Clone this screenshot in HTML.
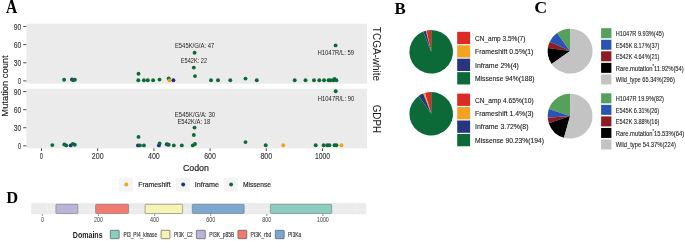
<!DOCTYPE html>
<html><head><meta charset="utf-8"><style>
html,body{margin:0;padding:0;background:#fff;width:685px;height:241px;overflow:hidden;}
svg{display:block;will-change:transform;}
</style></head><body>
<svg width="685" height="241" viewBox="0 0 685 241"><text x="6.0" y="12.95" font-size="18.1" fill="#000" text-anchor="start" font-weight="bold" style='font-family:"Liberation Serif", serif' textLength="11.2" lengthAdjust="spacingAndGlyphs">A</text>
<rect x="26.3" y="23.7" width="340.7" height="60.0" fill="#ebebeb"/>
<line x1="23.2" x2="26.3" y1="80.90" y2="80.90" stroke="#2a2a2a" stroke-width="0.85"/>
<text x="21.2" y="84.0" font-size="8.5" fill="#333" text-anchor="end" font-weight="normal" style='font-family:"Liberation Sans", sans-serif' textLength="3.1" lengthAdjust="spacingAndGlyphs" stroke="#333" stroke-width="0.12">0</text>
<line x1="23.2" x2="26.3" y1="62.77" y2="62.77" stroke="#2a2a2a" stroke-width="0.85"/>
<text x="21.2" y="65.87" font-size="8.5" fill="#333" text-anchor="end" font-weight="normal" style='font-family:"Liberation Sans", sans-serif' textLength="7.5" lengthAdjust="spacingAndGlyphs" stroke="#333" stroke-width="0.12">30</text>
<line x1="23.2" x2="26.3" y1="44.64" y2="44.64" stroke="#2a2a2a" stroke-width="0.85"/>
<text x="21.2" y="47.74" font-size="8.5" fill="#333" text-anchor="end" font-weight="normal" style='font-family:"Liberation Sans", sans-serif' textLength="7.5" lengthAdjust="spacingAndGlyphs" stroke="#333" stroke-width="0.12">60</text>
<line x1="23.2" x2="26.3" y1="26.50" y2="26.50" stroke="#2a2a2a" stroke-width="0.85"/>
<text x="21.2" y="29.6" font-size="8.5" fill="#333" text-anchor="end" font-weight="normal" style='font-family:"Liberation Sans", sans-serif' textLength="7.5" lengthAdjust="spacingAndGlyphs" stroke="#333" stroke-width="0.12">90</text>
<rect x="26.3" y="88.8" width="340.7" height="59.60000000000001" fill="#ebebeb"/>
<line x1="23.2" x2="26.3" y1="145.80" y2="145.80" stroke="#2a2a2a" stroke-width="0.85"/>
<text x="21.2" y="148.9" font-size="8.5" fill="#333" text-anchor="end" font-weight="normal" style='font-family:"Liberation Sans", sans-serif' textLength="3.1" lengthAdjust="spacingAndGlyphs" stroke="#333" stroke-width="0.12">0</text>
<line x1="23.2" x2="26.3" y1="127.73" y2="127.73" stroke="#2a2a2a" stroke-width="0.85"/>
<text x="21.2" y="130.83" font-size="8.5" fill="#333" text-anchor="end" font-weight="normal" style='font-family:"Liberation Sans", sans-serif' textLength="7.5" lengthAdjust="spacingAndGlyphs" stroke="#333" stroke-width="0.12">30</text>
<line x1="23.2" x2="26.3" y1="109.67" y2="109.67" stroke="#2a2a2a" stroke-width="0.85"/>
<text x="21.2" y="112.77" font-size="8.5" fill="#333" text-anchor="end" font-weight="normal" style='font-family:"Liberation Sans", sans-serif' textLength="7.5" lengthAdjust="spacingAndGlyphs" stroke="#333" stroke-width="0.12">60</text>
<line x1="23.2" x2="26.3" y1="91.60" y2="91.60" stroke="#2a2a2a" stroke-width="0.85"/>
<text x="21.2" y="94.7" font-size="8.5" fill="#333" text-anchor="end" font-weight="normal" style='font-family:"Liberation Sans", sans-serif' textLength="7.5" lengthAdjust="spacingAndGlyphs" stroke="#333" stroke-width="0.12">90</text>
<line x1="41.50" x2="41.50" y1="148.4" y2="151.0" stroke="#2a2a2a" stroke-width="0.85"/>
<text x="41.5" y="158.9" font-size="8.4" fill="#333" text-anchor="middle" font-weight="normal" style='font-family:"Liberation Sans", sans-serif' textLength="3.3" lengthAdjust="spacingAndGlyphs" stroke="#333" stroke-width="0.12">0</text>
<line x1="97.70" x2="97.70" y1="148.4" y2="151.0" stroke="#2a2a2a" stroke-width="0.85"/>
<text x="97.7" y="158.9" font-size="8.4" fill="#333" text-anchor="middle" font-weight="normal" style='font-family:"Liberation Sans", sans-serif' textLength="11.8" lengthAdjust="spacingAndGlyphs" stroke="#333" stroke-width="0.12">200</text>
<line x1="153.90" x2="153.90" y1="148.4" y2="151.0" stroke="#2a2a2a" stroke-width="0.85"/>
<text x="153.9" y="158.9" font-size="8.4" fill="#333" text-anchor="middle" font-weight="normal" style='font-family:"Liberation Sans", sans-serif' textLength="11.8" lengthAdjust="spacingAndGlyphs" stroke="#333" stroke-width="0.12">400</text>
<line x1="210.10" x2="210.10" y1="148.4" y2="151.0" stroke="#2a2a2a" stroke-width="0.85"/>
<text x="210.1" y="158.9" font-size="8.4" fill="#333" text-anchor="middle" font-weight="normal" style='font-family:"Liberation Sans", sans-serif' textLength="11.8" lengthAdjust="spacingAndGlyphs" stroke="#333" stroke-width="0.12">600</text>
<line x1="266.30" x2="266.30" y1="148.4" y2="151.0" stroke="#2a2a2a" stroke-width="0.85"/>
<text x="266.3" y="158.9" font-size="8.4" fill="#333" text-anchor="middle" font-weight="normal" style='font-family:"Liberation Sans", sans-serif' textLength="11.8" lengthAdjust="spacingAndGlyphs" stroke="#333" stroke-width="0.12">800</text>
<line x1="322.50" x2="322.50" y1="148.4" y2="151.0" stroke="#2a2a2a" stroke-width="0.85"/>
<text x="322.5" y="158.9" font-size="8.4" fill="#333" text-anchor="middle" font-weight="normal" style='font-family:"Liberation Sans", sans-serif' textLength="15.2" lengthAdjust="spacingAndGlyphs" stroke="#333" stroke-width="0.12">1000</text>
<text x="8.3" y="86.0" font-size="9.6" fill="#1a1a1a" text-anchor="middle" font-weight="normal" style='font-family:"Liberation Sans", sans-serif' textLength="61.3" lengthAdjust="spacingAndGlyphs" transform="rotate(-90 8.3 86.0)" stroke="#1a1a1a" stroke-width="0.15">Mutation count</text>
<text x="195.9" y="170.8" font-size="9.9" fill="#1a1a1a" text-anchor="middle" font-weight="normal" style='font-family:"Liberation Sans", sans-serif' textLength="26.0" lengthAdjust="spacingAndGlyphs" stroke="#1a1a1a" stroke-width="0.2">Codon</text>
<text x="373.2" y="54.0" font-size="10.3" fill="#1a1a1a" text-anchor="middle" font-weight="normal" style='font-family:"Liberation Sans", sans-serif' textLength="54.3" lengthAdjust="spacingAndGlyphs" transform="rotate(90 373.2 54.0)">TCGA-white</text>
<text x="373.2" y="118.9" font-size="10.3" fill="#1a1a1a" text-anchor="middle" font-weight="normal" style='font-family:"Liberation Sans", sans-serif' textLength="28.3" lengthAdjust="spacingAndGlyphs" transform="rotate(90 373.2 118.9)">GDPH</text>
<circle cx="64.1" cy="79.8" r="1.95" fill="#0b6a37"/>
<circle cx="72.0" cy="79.4" r="1.95" fill="#252e7d"/>
<circle cx="73.0" cy="80.3" r="1.95" fill="#0b6a37"/>
<circle cx="74.9" cy="79.7" r="1.95" fill="#0b6a37"/>
<circle cx="138.5" cy="73.8" r="1.95" fill="#0b6a37"/>
<circle cx="138.3" cy="80.25" r="1.95" fill="#0b6a37"/>
<circle cx="143.9" cy="80.25" r="1.95" fill="#0b6a37"/>
<circle cx="147.8" cy="80.25" r="1.95" fill="#0b6a37"/>
<circle cx="153.1" cy="80.25" r="1.95" fill="#0b6a37"/>
<circle cx="159.5" cy="79.6" r="1.95" fill="#0b6a37"/>
<circle cx="168.7" cy="78.4" r="1.95" fill="#0b6a37"/>
<circle cx="169.4" cy="80.5" r="1.95" fill="#f4a11c"/>
<circle cx="173.4" cy="80.25" r="1.95" fill="#252e7d"/>
<circle cx="194.6" cy="52.8" r="1.95" fill="#0b6a37"/>
<circle cx="193.8" cy="67.6" r="1.95" fill="#0b6a37"/>
<circle cx="195" cy="76.1" r="1.95" fill="#0b6a37"/>
<circle cx="211" cy="80.25" r="1.95" fill="#0b6a37"/>
<circle cx="218" cy="80.25" r="1.95" fill="#0b6a37"/>
<circle cx="230.3" cy="80.25" r="1.95" fill="#0b6a37"/>
<circle cx="245.5" cy="78.6" r="1.95" fill="#0b6a37"/>
<circle cx="256.8" cy="80.25" r="1.95" fill="#0b6a37"/>
<circle cx="294.7" cy="80.25" r="1.95" fill="#0b6a37"/>
<circle cx="305.5" cy="80.3" r="1.95" fill="#0b6a37"/>
<circle cx="314" cy="80.3" r="1.95" fill="#0b6a37"/>
<circle cx="319.3" cy="80.3" r="1.95" fill="#0b6a37"/>
<circle cx="324.0" cy="80.25" r="1.95" fill="#0b6a37"/>
<circle cx="328.5" cy="80.3" r="1.95" fill="#0b6a37"/>
<circle cx="330.4" cy="80.3" r="1.95" fill="#0b6a37"/>
<circle cx="333.4" cy="80.3" r="1.95" fill="#0b6a37"/>
<circle cx="334.5" cy="78.9" r="1.95" fill="#0b6a37"/>
<circle cx="336.4" cy="80.3" r="1.95" fill="#0b6a37"/>
<circle cx="335.6" cy="45.4" r="1.95" fill="#0b6a37"/>
<circle cx="52.3" cy="145.1" r="1.95" fill="#0b6a37"/>
<circle cx="64.3" cy="144.5" r="1.95" fill="#0b6a37"/>
<circle cx="66.3" cy="145.4" r="1.95" fill="#0b6a37"/>
<circle cx="70.7" cy="145.4" r="1.95" fill="#252e7d"/>
<circle cx="72.8" cy="143.9" r="1.95" fill="#0b6a37"/>
<circle cx="74.8" cy="144.8" r="1.95" fill="#0b6a37"/>
<circle cx="138.5" cy="136.9" r="1.95" fill="#0b6a37"/>
<circle cx="138.0" cy="145.4" r="1.95" fill="#252e7d"/>
<circle cx="139.9" cy="145.4" r="1.95" fill="#0b6a37"/>
<circle cx="143.9" cy="145.4" r="1.95" fill="#0b6a37"/>
<circle cx="158.9" cy="145.4" r="1.95" fill="#252e7d"/>
<circle cx="159.6" cy="143.4" r="1.95" fill="#0b6a37"/>
<circle cx="166.8" cy="144.2" r="1.95" fill="#252e7d"/>
<circle cx="167.7" cy="144.6" r="1.95" fill="#0b6a37"/>
<circle cx="168.7" cy="144.8" r="1.95" fill="#0b6a37"/>
<circle cx="173.8" cy="145.4" r="1.95" fill="#0b6a37"/>
<circle cx="181.8" cy="145.4" r="1.95" fill="#0b6a37"/>
<circle cx="192.8" cy="145.4" r="1.95" fill="#0b6a37"/>
<circle cx="195" cy="144" r="1.95" fill="#0b6a37"/>
<circle cx="193.8" cy="135" r="1.95" fill="#0b6a37"/>
<circle cx="194.5" cy="127.6" r="1.95" fill="#0b6a37"/>
<circle cx="245.5" cy="142.1" r="1.95" fill="#0b6a37"/>
<circle cx="265.7" cy="145.3" r="1.95" fill="#0b6a37"/>
<circle cx="283.2" cy="145.3" r="1.95" fill="#f4a11c"/>
<circle cx="315.7" cy="145.3" r="1.95" fill="#0b6a37"/>
<circle cx="323.6" cy="145.3" r="1.95" fill="#0b6a37"/>
<circle cx="327.2" cy="145.3" r="1.95" fill="#0b6a37"/>
<circle cx="329.4" cy="145.3" r="1.95" fill="#0b6a37"/>
<circle cx="334.5" cy="145.3" r="1.95" fill="#0b6a37"/>
<circle cx="336.4" cy="145.3" r="1.95" fill="#0b6a37"/>
<circle cx="341.4" cy="145.3" r="1.95" fill="#f4a11c"/>
<circle cx="335.7" cy="91.3" r="1.95" fill="#0b6a37"/>
<text x="194.6" y="47.9" font-size="6.4" fill="#1e1e1e" text-anchor="middle" font-weight="normal" style='font-family:"Liberation Sans", sans-serif' textLength="39.4" lengthAdjust="spacingAndGlyphs">E545K/G/A: 47</text>
<text x="193.9" y="63.0" font-size="6.4" fill="#1e1e1e" text-anchor="middle" font-weight="normal" style='font-family:"Liberation Sans", sans-serif' textLength="26.3" lengthAdjust="spacingAndGlyphs">E542K: 22</text>
<text x="335.8" y="55.3" font-size="6.4" fill="#1e1e1e" text-anchor="middle" font-weight="normal" style='font-family:"Liberation Sans", sans-serif' textLength="36.8" lengthAdjust="spacingAndGlyphs">H1047R/L: 59</text>
<text x="195.0" y="116.8" font-size="6.4" fill="#1e1e1e" text-anchor="middle" font-weight="normal" style='font-family:"Liberation Sans", sans-serif' textLength="40.3" lengthAdjust="spacingAndGlyphs">E545K/G/A: 30</text>
<text x="193.8" y="123.9" font-size="6.4" fill="#1e1e1e" text-anchor="middle" font-weight="normal" style='font-family:"Liberation Sans", sans-serif' textLength="32.8" lengthAdjust="spacingAndGlyphs">E542K/A: 18</text>
<text x="336.0" y="101.1" font-size="6.4" fill="#1e1e1e" text-anchor="middle" font-weight="normal" style='font-family:"Liberation Sans", sans-serif' textLength="36.5" lengthAdjust="spacingAndGlyphs">H1047R/L: 90</text>
<rect x="119.1" y="177.5" width="13.8" height="14.1" fill="#f4f4f4"/>
<circle cx="126.30" cy="184.5" r="1.95" fill="#f4a11c"/>
<text x="138.2" y="187.2" font-size="7.8" fill="#262626" text-anchor="start" font-weight="normal" style='font-family:"Liberation Sans", sans-serif' textLength="32.4" lengthAdjust="spacingAndGlyphs" stroke="#262626" stroke-width="0.18">Frameshift</text>
<rect x="176.0" y="177.5" width="13.8" height="14.1" fill="#f4f4f4"/>
<circle cx="183.20" cy="184.5" r="1.95" fill="#252e7d"/>
<text x="194.8" y="187.2" font-size="7.8" fill="#262626" text-anchor="start" font-weight="normal" style='font-family:"Liberation Sans", sans-serif' textLength="24.2" lengthAdjust="spacingAndGlyphs" stroke="#262626" stroke-width="0.18">Inframe</text>
<rect x="223.9" y="177.5" width="13.8" height="14.1" fill="#f4f4f4"/>
<circle cx="231.10" cy="184.5" r="1.95" fill="#0b6a37"/>
<text x="242.9" y="187.2" font-size="7.8" fill="#262626" text-anchor="start" font-weight="normal" style='font-family:"Liberation Sans", sans-serif' textLength="28.1" lengthAdjust="spacingAndGlyphs" stroke="#262626" stroke-width="0.18">Missense</text>
<text x="394.4" y="14.1" font-size="17.6" fill="#000" text-anchor="start" font-weight="bold" style='font-family:"Liberation Serif", serif' textLength="11.2" lengthAdjust="spacingAndGlyphs">B</text>
<text x="534.3" y="13.4" font-size="17.7" fill="#000" text-anchor="start" font-weight="bold" style='font-family:"Liberation Serif", serif' textLength="12.9" lengthAdjust="spacingAndGlyphs">C</text>
<path d="M431.2,51.8 L431.200,30.000 A21.8,21.8 0 0 0 426.444,30.525 Z" fill="#dd2a24"/>
<path d="M431.2,51.8 L426.444,30.525 A21.8,21.8 0 0 0 425.779,30.685 Z" fill="#f2a320"/>
<path d="M431.2,51.8 L425.779,30.685 A21.8,21.8 0 0 0 423.175,31.531 Z" fill="#273480"/>
<path d="M431.2,51.8 L423.175,31.531 A21.8,21.8 0 1 0 431.200,30.000 Z" fill="#0b6a37"/>
<path d="M431.2,113.8 L431.200,92.000 A21.8,21.8 0 0 0 424.921,92.924 Z" fill="#dd2a24"/>
<path d="M431.2,113.8 L424.921,92.924 A21.8,21.8 0 0 0 423.111,93.556 Z" fill="#f2a320"/>
<path d="M431.2,113.8 L423.111,93.556 A21.8,21.8 0 0 0 418.642,95.980 Z" fill="#273480"/>
<path d="M431.2,113.8 L418.642,95.980 A21.8,21.8 0 1 0 431.200,92.000 Z" fill="#0b6a37"/>
<rect x="457.2" y="31.80" width="12.9" height="12.3" fill="#dd2a24"/>
<text x="475.0" y="40.7" font-size="7.9" fill="#1a1a1a" text-anchor="start" font-weight="normal" style='font-family:"Liberation Sans", sans-serif' textLength="50.4" lengthAdjust="spacingAndGlyphs" stroke="#1a1a1a" stroke-width="0.12">CN_amp 3.5%(7)</text>
<rect x="457.2" y="45.25" width="12.9" height="12.3" fill="#f2a320"/>
<text x="475.0" y="54.15" font-size="7.9" fill="#1a1a1a" text-anchor="start" font-weight="normal" style='font-family:"Liberation Sans", sans-serif' textLength="58.4" lengthAdjust="spacingAndGlyphs" stroke="#1a1a1a" stroke-width="0.12">Frameshift 0.5%(1)</text>
<rect x="457.2" y="58.70" width="12.9" height="12.3" fill="#273480"/>
<text x="475.0" y="67.60000000000001" font-size="7.9" fill="#1a1a1a" text-anchor="start" font-weight="normal" style='font-family:"Liberation Sans", sans-serif' textLength="43.9" lengthAdjust="spacingAndGlyphs" stroke="#1a1a1a" stroke-width="0.12">Inframe 2%(4)</text>
<rect x="457.2" y="72.15" width="12.9" height="12.3" fill="#0b6a37"/>
<text x="475.0" y="81.05" font-size="7.9" fill="#1a1a1a" text-anchor="start" font-weight="normal" style='font-family:"Liberation Sans", sans-serif' textLength="59.4" lengthAdjust="spacingAndGlyphs" stroke="#1a1a1a" stroke-width="0.12">Missense 94%(188)</text>
<rect x="457.2" y="93.60" width="12.9" height="12.3" fill="#dd2a24"/>
<text x="475.0" y="102.5" font-size="7.9" fill="#1a1a1a" text-anchor="start" font-weight="normal" style='font-family:"Liberation Sans", sans-serif' textLength="58.6" lengthAdjust="spacingAndGlyphs" stroke="#1a1a1a" stroke-width="0.12">CN_amp 4.65%(10)</text>
<rect x="457.2" y="107.05" width="12.9" height="12.3" fill="#f2a320"/>
<text x="475.0" y="115.95" font-size="7.9" fill="#1a1a1a" text-anchor="start" font-weight="normal" style='font-family:"Liberation Sans", sans-serif' textLength="58.6" lengthAdjust="spacingAndGlyphs" stroke="#1a1a1a" stroke-width="0.12">Frameshift 1.4%(3)</text>
<rect x="457.2" y="120.50" width="12.9" height="12.3" fill="#273480"/>
<text x="475.0" y="129.4" font-size="7.9" fill="#1a1a1a" text-anchor="start" font-weight="normal" style='font-family:"Liberation Sans", sans-serif' textLength="53.5" lengthAdjust="spacingAndGlyphs" stroke="#1a1a1a" stroke-width="0.12">Inframe 3.72%(8)</text>
<rect x="457.2" y="133.95" width="12.9" height="12.3" fill="#0b6a37"/>
<text x="475.0" y="142.85" font-size="7.9" fill="#1a1a1a" text-anchor="start" font-weight="normal" style='font-family:"Liberation Sans", sans-serif' textLength="69.1" lengthAdjust="spacingAndGlyphs" stroke="#1a1a1a" stroke-width="0.12">Missense 90.23%(194)</text>
<path d="M570.1,51.1 L570.100,28.650 A22.45,22.45 0 0 0 556.984,32.880 Z" fill="#55a05a"/>
<path d="M570.1,51.1 L556.984,32.880 A22.45,22.45 0 0 0 549.727,41.669 Z" fill="#2a54b3"/>
<path d="M570.1,51.1 L549.727,41.669 A22.45,22.45 0 0 0 547.876,47.923 Z" fill="#8c1c22"/>
<path d="M570.1,51.1 L547.876,47.923 A22.45,22.45 0 0 0 551.660,63.905 Z" fill="#000000"/>
<path d="M570.1,51.1 L551.660,63.905 A22.45,22.45 0 1 0 570.100,28.650 Z" fill="#c3c3c3"/>
<path d="M570.1,116.1 L570.100,93.650 A22.45,22.45 0 0 0 548.793,109.029 Z" fill="#55a05a"/>
<path d="M570.1,116.1 L548.793,109.029 A22.45,22.45 0 0 0 547.715,117.805 Z" fill="#2a54b3"/>
<path d="M570.1,116.1 L547.715,117.805 A22.45,22.45 0 0 0 548.788,123.158 Z" fill="#8c1c22"/>
<path d="M570.1,116.1 L548.788,123.158 A22.45,22.45 0 0 0 563.999,137.705 Z" fill="#000000"/>
<path d="M570.1,116.1 L563.999,137.705 A22.45,22.45 0 1 0 570.114,93.650 Z" fill="#c3c3c3"/>
<rect x="601.1" y="28.20" width="10.3" height="10.0" fill="#55a05a"/>
<text x="615.8" y="36.0" font-size="7.1" fill="#1a1a1a" text-anchor="start" font-weight="normal" style='font-family:"Liberation Sans", sans-serif' textLength="48.0" lengthAdjust="spacingAndGlyphs" stroke="#1a1a1a" stroke-width="0.1">H1047R 9.93%(45)</text>
<rect x="601.1" y="39.75" width="10.3" height="10.0" fill="#2a54b3"/>
<text x="615.8" y="47.55" font-size="7.1" fill="#1a1a1a" text-anchor="start" font-weight="normal" style='font-family:"Liberation Sans", sans-serif' textLength="43.6" lengthAdjust="spacingAndGlyphs" stroke="#1a1a1a" stroke-width="0.1">E545K 8.17%(37)</text>
<rect x="601.1" y="51.30" width="10.3" height="10.0" fill="#8c1c22"/>
<text x="615.8" y="59.099999999999994" font-size="7.1" fill="#1a1a1a" text-anchor="start" font-weight="normal" style='font-family:"Liberation Sans", sans-serif' textLength="43.6" lengthAdjust="spacingAndGlyphs" stroke="#1a1a1a" stroke-width="0.1">E542K 4.64%(21)</text>
<rect x="601.1" y="62.85" width="10.3" height="10.0" fill="#000000"/>
<text x="615.8" y="70.65" font-size="7.1" fill="#1a1a1a" text-anchor="start" font-weight="normal" style='font-family:"Liberation Sans", sans-serif' textLength="68.0" lengthAdjust="spacingAndGlyphs" stroke="#1a1a1a" stroke-width="0.1">Rare.mutation<tspan dy="-2.5" font-size="4.5">*</tspan><tspan dy="2.5">11.92%(54)</tspan></text>
<rect x="601.1" y="74.40" width="10.3" height="10.0" fill="#c3c3c3"/>
<text x="615.8" y="82.2" font-size="7.1" fill="#1a1a1a" text-anchor="start" font-weight="normal" style='font-family:"Liberation Sans", sans-serif' textLength="59.0" lengthAdjust="spacingAndGlyphs" stroke="#1a1a1a" stroke-width="0.1">Wild_type 65.34%(296)</text>
<rect x="601.1" y="93.30" width="10.3" height="10.0" fill="#55a05a"/>
<text x="615.8" y="101.1" font-size="7.1" fill="#1a1a1a" text-anchor="start" font-weight="normal" style='font-family:"Liberation Sans", sans-serif' textLength="48.2" lengthAdjust="spacingAndGlyphs" stroke="#1a1a1a" stroke-width="0.1">H1047R 19.9%(82)</text>
<rect x="601.1" y="104.85" width="10.3" height="10.0" fill="#2a54b3"/>
<text x="615.8" y="112.64999999999999" font-size="7.1" fill="#1a1a1a" text-anchor="start" font-weight="normal" style='font-family:"Liberation Sans", sans-serif' textLength="43.4" lengthAdjust="spacingAndGlyphs" stroke="#1a1a1a" stroke-width="0.1">E545K 6.31%(26)</text>
<rect x="601.1" y="116.40" width="10.3" height="10.0" fill="#8c1c22"/>
<text x="615.8" y="124.2" font-size="7.1" fill="#1a1a1a" text-anchor="start" font-weight="normal" style='font-family:"Liberation Sans", sans-serif' textLength="43.5" lengthAdjust="spacingAndGlyphs" stroke="#1a1a1a" stroke-width="0.1">E542K 3.88%(16)</text>
<rect x="601.1" y="127.95" width="10.3" height="10.0" fill="#000000"/>
<text x="615.8" y="135.75" font-size="7.1" fill="#1a1a1a" text-anchor="start" font-weight="normal" style='font-family:"Liberation Sans", sans-serif' textLength="68.4" lengthAdjust="spacingAndGlyphs" stroke="#1a1a1a" stroke-width="0.1">Rare.mutation<tspan dy="-2.5" font-size="4.5">*</tspan><tspan dy="2.5">15.53%(64)</tspan></text>
<rect x="601.1" y="139.50" width="10.3" height="10.0" fill="#c3c3c3"/>
<text x="615.8" y="147.3" font-size="7.1" fill="#1a1a1a" text-anchor="start" font-weight="normal" style='font-family:"Liberation Sans", sans-serif' textLength="60.1" lengthAdjust="spacingAndGlyphs" stroke="#1a1a1a" stroke-width="0.1">Wild_type 54.37%(224)</text>
<text x="6.2" y="203.4" font-size="17.0" fill="#000" text-anchor="start" font-weight="bold" style='font-family:"Liberation Serif", serif' textLength="11.9" lengthAdjust="spacingAndGlyphs">D</text>
<rect x="31.3" y="203.1" width="335.1" height="11.2" fill="#ebebeb"/>
<line x1="31.3" x2="366.4" y1="209.6" y2="209.6" stroke="#f3f3f3" stroke-width="0.6"/>
<line x1="47.4" x2="47.4" y1="203.1" y2="214.3" stroke="#f3f3f3" stroke-width="0.6"/>
<line x1="355.5" x2="355.5" y1="203.1" y2="214.3" stroke="#f3f3f3" stroke-width="0.6"/>
<rect x="55.9" y="204.3" width="22.00" height="9.2" rx="0.8" fill="#bab4d9" stroke="#777" stroke-width="0.6"/>
<rect x="95.6" y="204.3" width="33.00" height="9.2" rx="0.8" fill="#ef7a6d" stroke="#777" stroke-width="0.6"/>
<rect x="145.1" y="204.3" width="37.50" height="9.2" rx="0.8" fill="#f6f4b3" stroke="#777" stroke-width="0.6"/>
<rect x="192.3" y="204.3" width="51.90" height="9.2" rx="0.8" fill="#7ba8d0" stroke="#777" stroke-width="0.6"/>
<rect x="270.4" y="204.3" width="61.30" height="9.2" rx="0.8" fill="#8bcdbf" stroke="#777" stroke-width="0.6"/>
<line x1="42.40" x2="42.40" y1="214.3" y2="215.8" stroke="#333" stroke-width="0.7"/>
<text x="42.4" y="221.7" font-size="7.1" fill="#3a3a3a" text-anchor="middle" font-weight="normal" style='font-family:"Liberation Sans", sans-serif' textLength="3.0" lengthAdjust="spacingAndGlyphs">0</text>
<line x1="98.50" x2="98.50" y1="214.3" y2="215.8" stroke="#333" stroke-width="0.7"/>
<text x="98.5" y="221.7" font-size="7.1" fill="#3a3a3a" text-anchor="middle" font-weight="normal" style='font-family:"Liberation Sans", sans-serif' textLength="9.0" lengthAdjust="spacingAndGlyphs">200</text>
<line x1="154.60" x2="154.60" y1="214.3" y2="215.8" stroke="#333" stroke-width="0.7"/>
<text x="154.6" y="221.7" font-size="7.1" fill="#3a3a3a" text-anchor="middle" font-weight="normal" style='font-family:"Liberation Sans", sans-serif' textLength="9.0" lengthAdjust="spacingAndGlyphs">400</text>
<line x1="210.70" x2="210.70" y1="214.3" y2="215.8" stroke="#333" stroke-width="0.7"/>
<text x="210.7" y="221.7" font-size="7.1" fill="#3a3a3a" text-anchor="middle" font-weight="normal" style='font-family:"Liberation Sans", sans-serif' textLength="9.0" lengthAdjust="spacingAndGlyphs">600</text>
<line x1="266.80" x2="266.80" y1="214.3" y2="215.8" stroke="#333" stroke-width="0.7"/>
<text x="266.8" y="221.7" font-size="7.1" fill="#3a3a3a" text-anchor="middle" font-weight="normal" style='font-family:"Liberation Sans", sans-serif' textLength="9.0" lengthAdjust="spacingAndGlyphs">800</text>
<line x1="322.90" x2="322.90" y1="214.3" y2="215.8" stroke="#333" stroke-width="0.7"/>
<text x="322.9" y="221.7" font-size="7.1" fill="#3a3a3a" text-anchor="middle" font-weight="normal" style='font-family:"Liberation Sans", sans-serif' textLength="11.8" lengthAdjust="spacingAndGlyphs">1000</text>
<text x="72.8" y="237.7" font-size="8.6" fill="#222" text-anchor="start" font-weight="bold" style='font-family:"Liberation Sans", sans-serif' textLength="29.8" lengthAdjust="spacingAndGlyphs">Domains</text>
<rect x="110.3" y="230.3" width="8.9" height="8.4" rx="0.6" fill="#8bcdbf" stroke="#444" stroke-width="0.6"/>
<text x="123.5" y="236.9" font-size="6.3" fill="#2a2a2a" text-anchor="start" font-weight="normal" style='font-family:"Liberation Sans", sans-serif' textLength="33.6" lengthAdjust="spacingAndGlyphs" stroke="#2a2a2a" stroke-width="0.12">PI3_PI4_kinase</text>
<rect x="161.1" y="230.3" width="8.9" height="8.4" rx="0.6" fill="#f6f4b3" stroke="#444" stroke-width="0.6"/>
<text x="174.0" y="236.9" font-size="6.3" fill="#2a2a2a" text-anchor="start" font-weight="normal" style='font-family:"Liberation Sans", sans-serif' textLength="18.7" lengthAdjust="spacingAndGlyphs" stroke="#2a2a2a" stroke-width="0.12">PI3K_C2</text>
<rect x="196.4" y="230.3" width="8.9" height="8.4" rx="0.6" fill="#bab4d9" stroke="#444" stroke-width="0.6"/>
<text x="209.3" y="236.9" font-size="6.3" fill="#2a2a2a" text-anchor="start" font-weight="normal" style='font-family:"Liberation Sans", sans-serif' textLength="24.9" lengthAdjust="spacingAndGlyphs" stroke="#2a2a2a" stroke-width="0.12">PI3K_p85B</text>
<rect x="237.9" y="230.3" width="8.9" height="8.4" rx="0.6" fill="#ef7a6d" stroke="#444" stroke-width="0.6"/>
<text x="250.6" y="236.9" font-size="6.3" fill="#2a2a2a" text-anchor="start" font-weight="normal" style='font-family:"Liberation Sans", sans-serif' textLength="20.7" lengthAdjust="spacingAndGlyphs" stroke="#2a2a2a" stroke-width="0.12">PI3K_rbd</text>
<rect x="275.3" y="230.3" width="8.9" height="8.4" rx="0.6" fill="#7ba8d0" stroke="#444" stroke-width="0.6"/>
<text x="287.9" y="236.9" font-size="6.3" fill="#2a2a2a" text-anchor="start" font-weight="normal" style='font-family:"Liberation Sans", sans-serif' textLength="13.2" lengthAdjust="spacingAndGlyphs" stroke="#2a2a2a" stroke-width="0.12">PI3Ka</text></svg>
</body></html>
